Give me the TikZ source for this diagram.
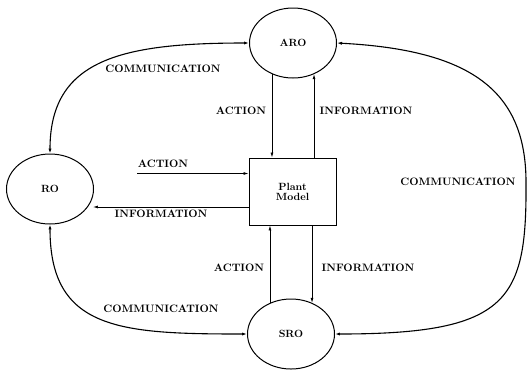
\documentclass[tikz,border=0pt]{standalone}
\usepackage{tikz}
\usetikzlibrary{shapes.geometric,arrows.meta}
\tikzset{
    agent-ellipse/.style = {draw, ellipse, line width=1bp, inner sep=0pt, minimum width=87bp, minimum height=70bp, font=\fontsize{10.5}{12}\selectfont\bfseries},
    plant-box/.style = {draw, rectangle, line width=1bp, minimum width=87bp, minimum height=67bp, align=center, font=\fontsize{10.5}{12}\selectfont\bfseries},
    flow-label/.style = {inner sep=0pt, font=\fontsize{10.8}{12}\selectfont\bfseries},
    flow/.style = {line width=0.7bp, -{Latex[length=5pt,width=3pt]}},
    comm/.style = {line width=1.1bp, {Latex[length=5pt,width=3.2pt]}-{Latex[length=5pt,width=3.2pt]}},
}
\begin{document}
\begin{tikzpicture}[x=1bp,y=-1bp]
\useasboundingbox (0,0) rectangle (527,371);
\node [agent-ellipse] (aro) at (293,43) {ARO};
\node [agent-ellipse] (ro) at (50,189) {RO};
\node [agent-ellipse] (sro) at (291,334) {SRO};
\node [plant-box] (plant) at (292.5,191.5) {Plant\\[-2pt]Model};

% operator to plant and back
\draw [flow] (aro.236) -- (aro.236 |- plant.north);
\draw [flow] (aro.304 |- plant.north) -- (aro.304);
\draw [flow] (sro.124) -- (sro.124 |- plant.south);
\draw [flow] (sro.56 |- plant.south) -- (sro.56);

\coordinate (act-in) at (137,173.5);
\coordinate (info-out) at (93,207);
\draw [flow] (act-in) -- (act-in -| plant.west);
\draw [flow] (info-out -| plant.west) -- (info-out);

% communication links
\draw [comm] (ro.north) .. controls (50,60) and (120,43) .. (aro.west);
\draw [comm] (ro.south) .. controls (50,330) and (120,334) .. (sro.west);
\draw [comm] (aro.east) .. controls (470,50) and (525,90) .. (526,180)
    .. controls (527,300) and (510,334) .. (sro.east);

% labels
\node [flow-label] (comm-top) at (163,69) {COMMUNICATION};
\node [flow-label] (act-top) at (241,111) {ACTION};
\node [flow-label] (info-top) at (366,111) {INFORMATION};
\node [flow-label] (act-left) at (163,164) {ACTION};
\node [flow-label] (comm-right) at (458,182) {COMMUNICATION};
\node [flow-label] (info-left) at (161,214) {INFORMATION};
\node [flow-label] (act-bottom) at (239,268) {ACTION};
\node [flow-label] (info-bottom) at (368,268) {INFORMATION};
\node [flow-label] (comm-bottom) at (161,309) {COMMUNICATION};
\end{tikzpicture}
\end{document}
